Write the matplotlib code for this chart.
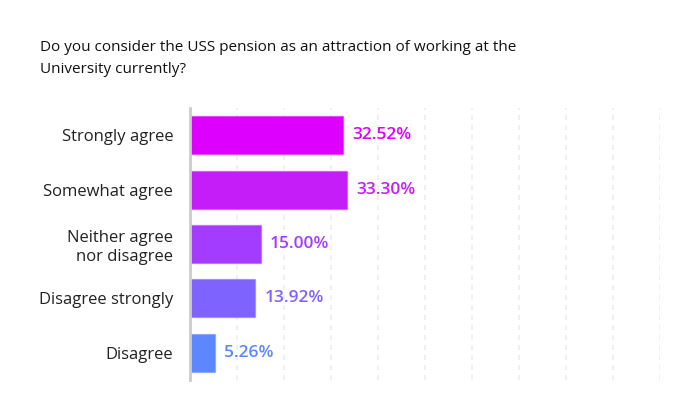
import matplotlib.pyplot as plt

plt.rcParams['font.family'] = ['Open Sans', 'DejaVu Sans']

categories = ["Strongly agree", "Somewhat agree", "Neither agree\nnor disagree",
              "Disagree strongly", "Disagree"]
values = [32.52, 33.30, 15.00, 13.92, 5.26]
labels = ["32.52%", "33.30%", "15.00%", "13.92%", "5.26%"]
colors = ["#DD00FF", "#C41DF7", "#A43CFF", "#7F63FF", "#5D87FF"]

fig = plt.figure(figsize=(7, 4.2), dpi=100)
ax = fig.add_axes([190/700, 1-380/420, 470/700, 272/420])

pos = list(range(len(categories)))
ax.barh(pos, values, height=0.7, color=colors, edgecolor=[c + "66" for c in colors],
        linewidth=1, zorder=3)
for p, v, l, c in zip(pos, values, labels, colors):
    ax.text(v + 2, p, l, va='center', ha='left', fontsize=12.5, color=c,
            fontweight='semibold')

ax.set_xlim(0, 100)
ax.set_ylim(4.5, -0.5)
ax.set_yticks(pos)
ax.set_yticklabels(categories, fontsize=12, color="#222222", linespacing=1.25)
ax.tick_params(axis='y', length=0, pad=12)
ax.set_xticks(range(10, 101, 10))
ax.tick_params(axis='x', length=0, labelbottom=False)
ax.grid(axis='x', color='#eeeeee', linestyle=(0, (3, 3)), linewidth=1.2, zorder=0)
for s in ['top', 'right', 'bottom']:
    ax.spines[s].set_visible(False)
ax.spines['left'].set_color('#cccccc')
ax.spines['left'].set_linewidth(2)
ax.spines['left'].set_zorder(4)

fig.text(40/700, 1-40/420, "Do you consider the USS pension as an attraction of working at the\nUniversity currently?",
         ha='left', va='top', fontsize=11, color='#111111', linespacing=1.6)

fig.savefig("out.png", dpi=100)
